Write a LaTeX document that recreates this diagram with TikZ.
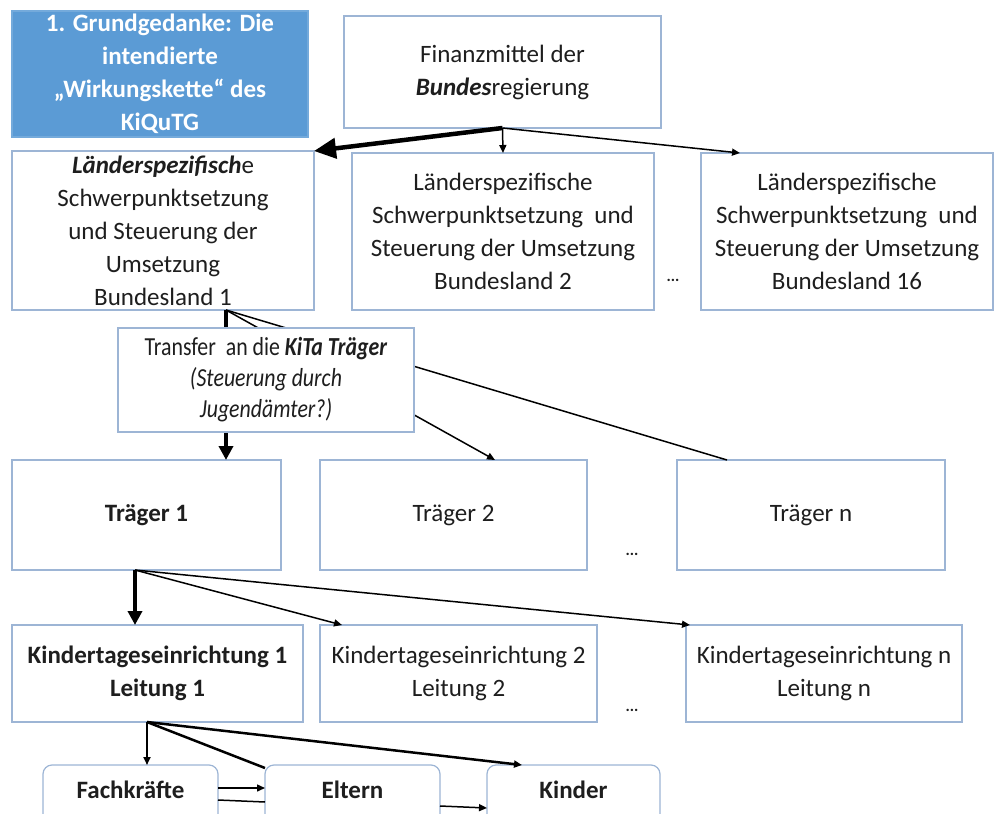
\documentclass[tikz,border=0pt]{standalone}
\usepackage{fontspec}
\setmainfont{Carlito}
\newfontfamily\narrowfont{Carlito}[FakeStretch=0.84]
\usetikzlibrary{arrows.meta}
\definecolor{boxc}{HTML}{9DB5D5}
\definecolor{titlec}{HTML}{5B9BD5}
\definecolor{txt}{HTML}{1E1E1E}
\begin{document}
\begin{tikzpicture}[x=1pt,y=-1pt,
  box/.style={draw=boxc, line width=1.2pt, fill=white, inner sep=0pt, outer sep=0pt,
    align=center, text=txt, anchor=north west, font=\fontsize{25}{33}\selectfont},
  rbox/.style={box, rounded corners=9pt},
  dotsn/.style={text=txt, font=\fontsize{16}{16}\selectfont\bfseries, inner sep=0pt},
  thin/.style={line width=1.5pt, draw=black},
  mid/.style={line width=2.5pt, draw=black},
  thick/.style={line width=4.5pt, draw=black},
  stip/.style={-{Triangle[length=8pt,width=7pt]}},
  btip/.style={-{Triangle[length=14pt,width=14pt]}},
  htip/.style={-{Triangle[length=22pt,width=20pt]}}]
\useasboundingbox (0,0) rectangle (994,814);
\clip (0,0) rectangle (994,814);

% row 0
\node[box, fill=titlec, draw=titlec!85!white, text=white,
  font=\fontsize{25}{33}\selectfont\bfseries,
  minimum width=296pt, minimum height=126pt] (title) at (12,11)
  {1. Grundgedanke: Die\\intendierte\\„Wirkungskette“ des\\KiQuTG};
\node[box, minimum width=317pt, minimum height=112pt] (fin) at (344,16)
  {Finanzmittel der\\\textbf{\textit{Bundes}}regierung};

% row 1
\node[box, minimum width=302pt, minimum height=159pt] (l1) at (12,151)
  {\textbf{\textit{Länderspezifisch}}e\\Schwerpunktsetzung\\und Steuerung der\\Umsetzung\\Bundesland 1};
\node[box, minimum width=302pt, minimum height=157pt] (l2) at (352,153)
  {Länderspezifische\\Schwerpunktsetzung\ \ und\\Steuerung der Umsetzung\\Bundesland 2};
\node[box, minimum width=292pt, minimum height=157pt] (l16) at (701,153)
  {Länderspezifische\\Schwerpunktsetzung\ \ und\\Steuerung der Umsetzung\\Bundesland 16};
\node[dotsn] (d1) at (673,280) {...};

% row 3
\node[box, minimum width=269pt, minimum height=110pt] (t1) at (12,460) {\textbf{Träger 1}};
\node[box, minimum width=267pt, minimum height=110pt] (t2) at (320,460) {Träger 2};
\node[box, minimum width=268pt, minimum height=110pt] (tn) at (677,460) {Träger n};
\node[dotsn] (d2) at (632,554) {...};

% row 4
\node[box, minimum width=291pt, minimum height=97pt] (k1) at (12,625)
  {\textbf{Kindertageseinrichtung 1}\\\textbf{Leitung 1}};
\node[box, minimum width=277pt, minimum height=97pt] (k2) at (320,625)
  {Kindertageseinrichtung 2\\Leitung 2};
\node[box, minimum width=276pt, minimum height=97pt] (kn) at (686,625)
  {Kindertageseinrichtung n\\Leitung n};
\node[dotsn] (d3) at (632,710) {...};

% row 5
\node[rbox, minimum width=175pt, minimum height=82pt, text depth=33pt] (fa) at (43,765) {\textbf{Fachkräfte}};
\node[rbox, minimum width=175pt, minimum height=82pt, text depth=33pt] (el) at (265,765) {\textbf{Eltern}};
\node[rbox, minimum width=173pt, minimum height=82pt, text depth=33pt] (ki) at (487,765) {\textbf{Kinder}};

% connectors
\draw[thick, htip] (fin.south) -- (l1.north east);
\draw[thin, stip] (fin.south) -- (l2.north);
\draw[thin, stip] (fin.south) -- ([xshift=39pt]l16.north west);

\draw[thick, btip] ([xshift=214pt]l1.south west) -- ([xshift=214pt]t1.north west);
\draw[thin, stip] ([xshift=214pt]l1.south west) -- ([xshift=175pt]t2.north west);
\draw[thin] ([xshift=214pt]l1.south west) -- ([xshift=50pt]tn.north west);

\draw[thick, btip] ([xshift=123pt]t1.south west) -- ([xshift=123pt]k1.north west);
\draw[thin, stip] ([xshift=123pt]t1.south west) -- ([xshift=22pt]k2.north west);
\draw[thin, stip] ([xshift=123pt]t1.south west) -- ([xshift=4pt]kn.north west);

\draw[mid, stip] ([xshift=135pt]k1.south west) -- ([xshift=104pt]fa.north west);
\draw[mid] ([xshift=135pt]k1.south west) -- ([yshift=-3pt]el.north west);
\draw[mid, stip] ([xshift=135pt]k1.south west) -- ([xshift=35pt]ki.north west);

\draw[thin, stip] ([yshift=-23pt]fa.north east) -- ([yshift=-23pt]el.north west);
\draw[thin] ([yshift=-35pt]fa.north east) -- ([yshift=-37pt]el.north west);
\draw[thin, stip] ([yshift=-41pt]el.north east) -- ([yshift=-43pt]ki.north west);

% transfer box on top
\node[box, minimum width=296pt, minimum height=104pt,
  font=\narrowfont\fontsize{26}{31}\selectfont] (tr) at (118,328)
  {Transfer\ \ an die \textbf{\textit{KiTa Träger}}\\\textit{(Steuerung durch}\\\textit{Jugendämter?)}};
\end{tikzpicture}
\end{document}
